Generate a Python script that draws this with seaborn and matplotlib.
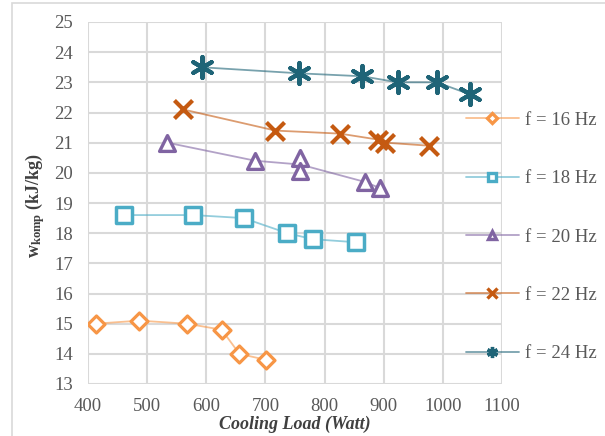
import matplotlib
matplotlib.use("Agg")
import matplotlib.pyplot as plt
import matplotlib.colors as mcolors
import seaborn as sns
import pandas as pd
from matplotlib.lines import Line2D
from matplotlib.patches import Rectangle

# ---- data ----
labels = ["f = 16 Hz", "f = 18 Hz", "f = 20 Hz", "f = 22 Hz", "f = 24 Hz"]
x16 = [413, 487, 567, 626, 656, 701]
y16 = [15.0, 15.1, 15.0, 14.8, 14.0, 13.8]
x18 = [461, 578, 663, 737, 780, 853]
y18 = [18.6, 18.6, 18.5, 18.0, 17.8, 17.7]
x20 = [534, 683, 759, 759, 868, 893]
y20 = [21.0, 20.4, 20.5, 20.05, 19.7, 19.5]
x22 = [561, 717, 826, 891, 903, 976]
y22 = [22.1, 21.4, 21.3, 21.1, 21.0, 20.9]
x24 = [592, 756, 864, 924, 990, 1046]
y24 = [23.5, 23.3, 23.2, 23.0, 23.0, 22.6]
xticks = [400, 500, 600, 700, 800, 900, 1000, 1100]
yticks = list(range(13, 26))

series_x = [x16, x18, x20, x22, x24]
series_y = [y16, y18, y20, y22, y24]

colors = ["#F79646", "#4BACC6", "#8064A2", "#C55A11", "#1F6477"]
markers = ["D", "s", "^", "x", (6, 2, 0)]
msizes = [75, 140, 130, 170, 230]
mlw = [2.3, 2.5, 2.4, 3.0, 3.0]
open_marker = [True, True, True, False, False]
leg_ms = [5, 6, 6, 7, 8]

sns.set_theme(style="white")
plt.rcParams["font.family"] = ["Liberation Serif", "DejaVu Serif"]
plt.rcParams["mathtext.fontset"] = "custom"
plt.rcParams["mathtext.rm"] = "Liberation Serif"
plt.rcParams["mathtext.bf"] = "Liberation Serif:bold"
plt.rcParams["mathtext.it"] = "Liberation Serif:italic"

fig = plt.figure(figsize=(6.05, 4.36), dpi=100)
fig.patches.append(Rectangle((12 / 605, -0.1), 1.2, 1 - 3 / 436 + 0.1,
                             transform=fig.transFigure, fill=False,
                             edgecolor="#d9d9d9", linewidth=1.2, zorder=0))
ax = fig.add_axes([88 / 605, 1 - 384 / 436, (502 - 88) / 605, (384 - 22) / 436])

for i in range(5):
    df = pd.DataFrame({"x": series_x[i], "y": series_y[i]})
    sns.lineplot(data=df, x="x", y="y", sort=False, ax=ax, color=colors[i],
                 alpha=0.6, linewidth=1.3, zorder=3)
    if open_marker[i]:
        sns.scatterplot(data=df, x="x", y="y", ax=ax, marker=markers[i],
                        s=msizes[i], facecolors="white", edgecolors=colors[i],
                        linewidths=mlw[i], zorder=4)
    else:
        sns.scatterplot(data=df, x="x", y="y", ax=ax, marker=markers[i],
                        s=msizes[i], color=colors[i], linewidths=mlw[i], zorder=4)

ax.set_xlim(400, 1100)
ax.set_ylim(13, 25)
ax.set_xticks(xticks)
ax.set_yticks(yticks)
ax.grid(True, color="#d9d9d9", linewidth=1.5)
ax.set_axisbelow(True)
for s in ax.spines.values():
    s.set_visible(False)
ax.tick_params(axis="both", length=0, labelsize=13.5, labelcolor="#595959")
ax.tick_params(axis="x", pad=10)
ax.tick_params(axis="y", pad=11)
ax.set_xlabel("")
ax.set_ylabel("")

fig.text(295 / 605, 1 - 424 / 436, "Cooling Load (Watt)", ha="center", va="center",
         fontsize=13, fontweight="bold", fontstyle="italic", color="#404040")
fig.text(35 / 605, 1 - 205 / 436, r"$\mathbf{w}_{\mathbf{komp}}$ (kJ/kg)",
         ha="center", va="center", rotation=90, fontsize=13,
         fontweight="bold", color="#404040")

handles = []
for i in range(5):
    h = Line2D([0], [0], color=mcolors.to_rgba(colors[i], 0.6), linewidth=1.3,
               marker=markers[i], markersize=leg_ms[i],
               markerfacecolor="white" if open_marker[i] else colors[i],
               markeredgecolor=colors[i], markeredgewidth=2.4)
    handles.append(h)
leg = fig.legend(handles, labels, loc="center left",
                 bbox_to_anchor=(466 / 605, 1 - 237 / 436),
                 frameon=False, fontsize=13.5, labelspacing=2.2,
                 handlelength=2.8, handletextpad=0.35, borderpad=0,
                 borderaxespad=0)
for t in leg.get_texts():
    t.set_color("#595959")

fig.savefig("out.png", dpi=100)
